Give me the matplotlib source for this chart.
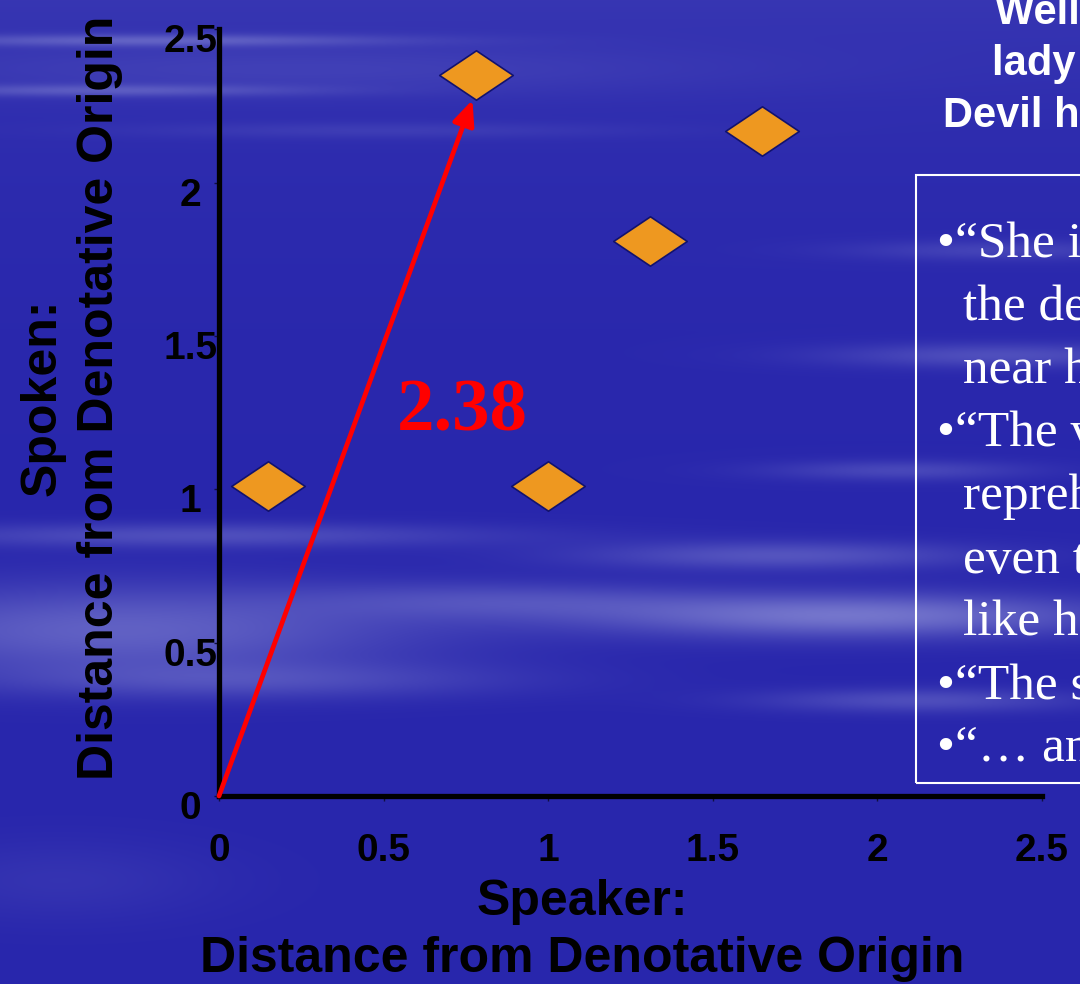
import numpy as np
import matplotlib.pyplot as plt
from matplotlib.path import Path
from matplotlib.patches import Rectangle
from matplotlib.transforms import ScaledTranslation

# values
speaker = [0.15, 0.78, 1.0, 1.31, 1.65]
spoken = [1.01, 2.35, 1.01, 1.81, 2.17]
arrow_end = (0.77, 2.27)
arrow_label = "2.38"
ticks = [0, 0.5, 1, 1.5, 2, 2.5]
tick_labels = ["0", "0.5", "1", "1.5", "2", "2.5"]
xlabel = "Speaker:\nDistance from Denotative Origin"
ylabel = "Spoken:\nDistance from Denotative Origin"
title_lines = ["Well known", "lady says the", "Devil has her soul"]
quote_lines = ["•“She is possessed by", "the devil when he is", "near her.”",
               "•“The vision is", "reprehensible,", "even to those", "like her.”",
               "•“The sight”", "•“… and so on”"]

W, H = 1080, 984

def fig_xy(x, y):
    # pixel position on the slide -> figure fraction
    return x / W, 1 - y / H

# cloudy blue slide background: (cx, cy, sx, sy, strength) in pixels
streaks = [
    (150, 40, 240, 6, 0.35), (100, 90, 200, 6, 0.30), (300, 70, 420, 25, 0.12),
    (200, 535, 300, 12, 0.30), (120, 630, 300, 45, 0.45), (250, 680, 260, 18, 0.25),
    (850, 615, 260, 22, 0.60), (780, 555, 200, 14, 0.35), (920, 700, 160, 12, 0.30),
    (1000, 355, 170, 12, 0.30), (900, 470, 130, 10, 0.25), (500, 600, 200, 18, 0.25),
    (60, 880, 160, 40, 0.10), (1000, 250, 150, 10, 0.20), (380, 130, 250, 8, 0.12),
]
yy, xx = np.mgrid[0:H, 0:W]
glow = 0.12 * np.exp(-yy / 160.0)
for cx, cy, sx, sy, a in streaks:
    glow += a * np.exp(-((xx - cx) / sx) ** 2 - ((yy - cy) / sy) ** 2)
glow = np.clip(glow, 0, 1)
dark = np.array([40, 38, 172]) / 255
light = np.array([165, 168, 225]) / 255
bg = dark + glow[..., None] * (light - dark)

fig = plt.figure(figsize=(10.8, 9.84), dpi=100)
bgax = fig.add_axes([0, 0, 1, 1], zorder=-10)
bgax.imshow(bg, aspect='auto', interpolation='bilinear')
bgax.axis('off')

x0, y0 = fig_xy(219, 796)
ax = fig.add_axes([x0, y0, 823 / W, 766.6 / H])
ax.patch.set_visible(False)

# flattened diamond marker
diamond = Path([(0, 1), (1.49, 0), (0, -1), (-1.49, 0), (0, 1)],
               [Path.MOVETO, Path.LINETO, Path.LINETO, Path.LINETO, Path.CLOSEPOLY])
ax.plot(speaker, spoken, linestyle='none', marker=diamond, markersize=53,
        markerfacecolor='#EE9820', markeredgecolor='#12126E', markeredgewidth=1.2,
        zorder=3, clip_on=False)

ax.annotate('', xy=arrow_end, xytext=(0, 0),
            arrowprops=dict(arrowstyle='-|>,head_length=0.5,head_width=0.22',
                            color='red', lw=3.4, mutation_scale=30,
                            shrinkA=0, shrinkB=0), zorder=4)
ax.text(0.738, 1.25, arrow_label, color='red', fontsize=54, fontweight='bold',
        family='Liberation Serif', ha='center', va='center')

ax.set_xlim(0, 2.5)
ax.set_ylim(0, 2.5)
ax.set_xticks(ticks)
ax.set_xticklabels(tick_labels)
ax.set_yticks(ticks)
ax.set_yticklabels(tick_labels)
for side in ['top', 'right']:
    ax.spines[side].set_visible(False)
for side in ['left', 'bottom']:
    ax.spines[side].set_linewidth(3.8)
    ax.spines[side].set_color('black')
ax.tick_params(direction='out', length=3.6, width=1, color='#101040')
ax.tick_params(axis='x', pad=23)
ax.tick_params(axis='y', pad=17)
for lab in ax.get_xticklabels() + ax.get_yticklabels():
    lab.set_fontsize(28)
    lab.set_fontweight('bold')
    lab.set_family('Liberation Sans')
shift = ScaledTranslation(0, -6.5 / 72, fig.dpi_scale_trans)
for lab in ax.get_yticklabels():
    lab.set_horizontalalignment('center')
    lab.set_transform(lab.get_transform() + shift)

ax.set_xlabel(xlabel, fontsize=36, fontweight='bold', family='Liberation Sans',
              linespacing=1.3)
ax.xaxis.set_label_coords(0.441, -0.108)
ax.set_ylabel(ylabel, fontsize=36, fontweight='bold', family='Liberation Sans',
              linespacing=1.3)
ax.yaxis.set_label_coords(-0.117, 0.52)

# slide title, running off the right edge
for i, line in enumerate(title_lines):
    left = [995, 992, 943][i]
    fig.text(*fig_xy(left, 24 + 51.5 * i), line, fontsize=30, fontweight='bold',
             family='Liberation Sans', color='white', ha='left', va='baseline')

# quote box, also cut by the slide edge
fig.add_artist(Rectangle(fig_xy(916, 783), 0.3, 608 / H, transform=fig.transFigure,
                         fill=False, edgecolor='white', linewidth=1.5))
for i, line in enumerate(quote_lines):
    left = 937 if line.startswith('•') else 963
    fig.text(*fig_xy(left, 257 + 63.1 * i), line, fontsize=37,
             family='Liberation Serif', color='white', ha='left', va='baseline')

fig.savefig('out.png', dpi=100)
